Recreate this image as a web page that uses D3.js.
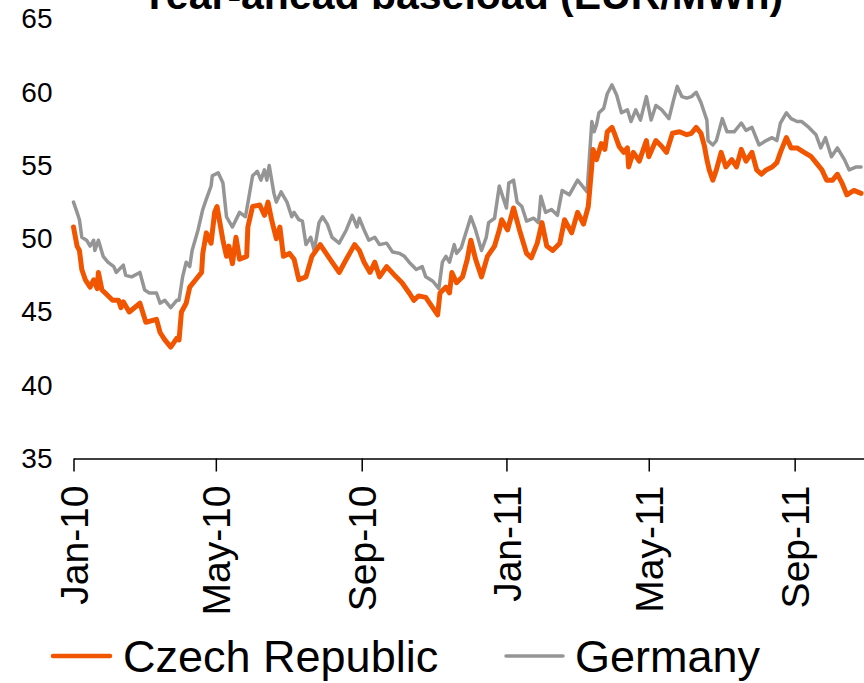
<!DOCTYPE html>
<html>
<head>
<meta charset="utf-8">
<script src="https://cdn.jsdelivr.net/npm/d3@7"></script>
<style>
  body { margin: 0; background: #fff; }
  svg { display: block; font-family: "Liberation Sans", Arial, sans-serif; }
</style>
</head>
<body>
<svg width="864" height="683"></svg>
<script>
var czechDates = ["2010-01-01","2010-01-04","2010-01-06","2010-01-08","2010-01-11","2010-01-15","2010-01-18","2010-01-21","2010-01-22","2010-01-25","2010-01-29","2010-02-03","2010-02-08","2010-02-10","2010-02-12","2010-02-17","2010-02-26","2010-03-03","2010-03-12","2010-03-15","2010-03-19","2010-03-24","2010-03-29","2010-03-31","2010-04-02","2010-04-06","2010-04-09","2010-04-14","2010-04-19","2010-04-20","2010-04-23","2010-04-27","2010-04-30","2010-05-02","2010-05-07","2010-05-10","2010-05-12","2010-05-15","2010-05-18","2010-05-21","2010-05-27","2010-05-28","2010-06-01","2010-06-07","2010-06-11","2010-06-14","2010-06-17","2010-06-21","2010-06-24","2010-06-27","2010-07-02","2010-07-06","2010-07-10","2010-07-16","2010-07-21","2010-07-28","2010-08-02","2010-08-07","2010-08-13","2010-08-19","2010-08-26","2010-08-30","2010-09-03","2010-09-08","2010-09-12","2010-09-16","2010-09-22","2010-09-30","2010-10-05","2010-10-11","2010-10-15","2010-10-19","2010-10-25","2010-10-30","2010-11-04","2010-11-06","2010-11-11","2010-11-14","2010-11-16","2010-11-20","2010-11-25","2010-11-29","2010-12-02","2010-12-06","2010-12-11","2010-12-16","2010-12-22","2010-12-26","2010-12-28","2011-01-02","2011-01-07","2011-01-12","2011-01-18","2011-01-22","2011-01-27","2011-01-31","2011-02-04","2011-02-09","2011-02-15","2011-02-19","2011-02-25","2011-03-02","2011-03-07","2011-03-11","2011-03-14","2011-03-15","2011-03-18","2011-03-22","2011-03-25","2011-03-27","2011-03-31","2011-04-02","2011-04-06","2011-04-10","2011-04-13","2011-04-14","2011-04-18","2011-04-23","2011-04-29","2011-05-01","2011-05-07","2011-05-12","2011-05-16","2011-05-21","2011-05-27","2011-06-02","2011-06-06","2011-06-10","2011-06-14","2011-06-17","2011-06-19","2011-06-21","2011-06-24","2011-06-27","2011-07-01","2011-07-05","2011-07-10","2011-07-14","2011-07-18","2011-07-22","2011-07-27","2011-07-31","2011-08-04","2011-08-08","2011-08-13","2011-08-17","2011-08-20","2011-08-25","2011-08-29","2011-09-03","2011-09-09","2011-09-15","2011-09-19","2011-09-24","2011-09-28","2011-10-03","2011-10-07","2011-10-11","2011-10-15","2011-10-21","2011-10-27"];
var czechValues = [50.8,49.5,49.2,47.9,47.2,46.7,47.2,46.6,47.7,46.5,46.2,45.8,45.8,45.3,45.7,45.0,45.6,44.3,44.5,43.6,43.1,42.6,43.2,43.1,45.0,45.6,46.7,47.2,47.7,49.0,50.4,49.7,51.8,52.2,49.9,48.8,49.5,48.3,50.1,48.6,48.8,50.8,52.2,52.3,51.6,52.5,51.3,50.0,50.8,48.8,49.0,48.6,47.2,47.4,48.8,49.6,49.0,48.4,47.7,48.6,49.6,49.2,48.4,47.7,48.4,47.4,48.1,47.4,47.0,46.3,45.8,46.1,46.0,45.4,44.8,46.3,46.7,46.3,47.7,47.0,47.4,48.6,49.9,48.6,47.4,48.8,49.5,50.6,51.3,50.6,52.1,50.6,49.0,48.7,49.7,51.1,49.5,49.2,49.7,51.3,50.4,51.8,51.0,52.2,55.0,56.1,55.4,56.5,56.1,57.3,57.6,57.2,56.3,55.9,56.2,54.9,55.9,55.3,56.7,55.6,56.7,56.3,55.9,57.2,57.3,57.1,57.2,57.6,57.2,56.3,55.4,54.7,54.0,54.7,55.9,54.9,55.4,54.9,56.1,55.3,55.9,54.7,54.4,54.7,54.9,55.2,55.9,56.9,56.2,56.2,55.9,55.6,55.2,54.7,54.0,54.0,54.4,53.8,53.0,53.3,53.1];

var germanyDates = ["2010-01-01","2010-01-04","2010-01-06","2010-01-08","2010-01-12","2010-01-15","2010-01-18","2010-01-19","2010-01-22","2010-01-26","2010-01-30","2010-02-04","2010-02-06","2010-02-12","2010-02-14","2010-02-19","2010-02-26","2010-03-02","2010-03-06","2010-03-12","2010-03-15","2010-03-19","2010-03-24","2010-03-29","2010-03-31","2010-04-03","2010-04-06","2010-04-09","2010-04-11","2010-04-16","2010-04-20","2010-04-23","2010-04-27","2010-04-28","2010-05-03","2010-05-07","2010-05-10","2010-05-15","2010-05-21","2010-05-26","2010-06-01","2010-06-05","2010-06-08","2010-06-11","2010-06-13","2010-06-15","2010-06-19","2010-06-21","2010-06-25","2010-06-30","2010-07-04","2010-07-06","2010-07-10","2010-07-13","2010-07-16","2010-07-20","2010-07-23","2010-07-27","2010-07-30","2010-08-03","2010-08-07","2010-08-13","2010-08-19","2010-08-24","2010-08-28","2010-08-30","2010-09-03","2010-09-07","2010-09-12","2010-09-16","2010-09-22","2010-09-27","2010-10-03","2010-10-07","2010-10-11","2010-10-17","2010-10-22","2010-10-25","2010-10-31","2010-11-05","2010-11-08","2010-11-11","2010-11-14","2010-11-18","2010-11-20","2010-11-24","2010-12-02","2010-12-06","2010-12-11","2010-12-15","2010-12-17","2010-12-22","2010-12-26","2011-01-01","2011-01-03","2011-01-07","2011-01-10","2011-01-14","2011-01-18","2011-01-24","2011-01-28","2011-01-30","2011-02-03","2011-02-08","2011-02-13","2011-02-17","2011-02-23","2011-03-02","2011-03-10","2011-03-14","2011-03-16","2011-03-18","2011-03-20","2011-03-24","2011-03-27","2011-03-31","2011-04-04","2011-04-08","2011-04-13","2011-04-16","2011-04-20","2011-04-24","2011-04-29","2011-05-03","2011-05-07","2011-05-12","2011-05-18","2011-05-22","2011-05-25","2011-05-29","2011-06-02","2011-06-06","2011-06-10","2011-06-14","2011-06-19","2011-06-20","2011-06-24","2011-06-27","2011-07-02","2011-07-06","2011-07-12","2011-07-18","2011-07-22","2011-07-27","2011-08-02","2011-08-08","2011-08-13","2011-08-17","2011-08-20","2011-08-25","2011-08-29","2011-09-03","2011-09-07","2011-09-13","2011-09-19","2011-09-23","2011-09-27","2011-10-02","2011-10-07","2011-10-13","2011-10-17","2011-10-23","2011-10-27"];
var germanyValues = [52.5,51.8,51.3,50.1,49.9,49.5,49.9,49.2,49.9,48.8,48.4,48.1,47.7,48.2,47.5,47.4,47.7,46.5,46.3,46.3,45.6,45.8,45.3,45.8,45.8,47.4,48.4,48.1,49.2,50.6,52.0,52.7,53.6,54.3,54.5,53.8,51.5,50.8,51.8,51.5,54.3,54.6,54.0,54.7,54.0,55.0,53.1,52.5,53.2,52.5,51.5,51.8,51.3,51.2,49.6,50.1,49.2,51.1,51.5,51.0,50.1,49.7,50.6,51.6,50.8,51.4,50.6,49.9,50.1,49.6,49.7,49.1,49.0,48.8,48.4,47.9,48.1,47.4,47.1,46.6,48.4,48.8,48.4,49.6,49.0,49.4,51.5,50.6,49.2,50.1,51.1,51.4,53.6,52.1,53.8,54.0,52.5,52.2,51.2,51.4,51.1,52.9,51.8,52.0,51.6,53.3,53.0,54.0,53.2,58.0,57.3,57.8,58.6,58.9,59.9,60.5,59.8,58.6,58.8,58.0,58.8,58.1,59.7,58.1,59.1,58.8,58.2,59.5,60.4,59.7,59.6,59.7,60.0,59.3,58.1,56.7,56.4,56.7,58.2,57.3,57.3,57.9,57.4,57.6,56.4,56.7,56.9,56.7,57.9,58.6,58.2,58.0,58.0,57.6,57.1,56.2,56.9,55.6,56.2,55.4,54.7,54.9,54.9];

var yTicks = [35, 40, 45, 50, 55, 60, 65];
var xTickDates = ["2010-01-01","2010-05-01","2010-09-01","2011-01-01","2011-05-01","2011-09-01"];
var seriesNames = ["Czech Republic", "Germany"];
var title = "Year-ahead baseload (EUR/MWh)";

var svg = d3.select("svg"),
    width = +svg.attr("width"),
    height = +svg.attr("height");

var parse = d3.timeParse("%Y-%m-%d");

var series = [
    {name: seriesNames[0], color: "#f25500", width: 5,
     values: czechDates.map(function (d, i) { return {date: parse(d), value: czechValues[i]}; })},
    {name: seriesNames[1], color: "#959595", width: 3.5,
     values: germanyDates.map(function (d, i) { return {date: parse(d), value: germanyValues[i]}; })}
];

var x = d3.scaleTime()
    .domain([parse("2010-01-01"), parse("2011-11-01")])
    .range([73.5, 867]);

var y = d3.scaleLinear()
    .domain([35, 65])
    .range([458.5, 19]);

// title sits mostly above the page edge, as in the original picture
svg.append("text")
    .attr("x", 462)
    .attr("y", 9)
    .attr("text-anchor", "middle")
    .attr("font-size", 41)
    .attr("font-weight", "bold")
    .attr("fill", "#000")
    .text(title);

var yAxis = svg.append("g")
    .attr("transform", "translate(73.5,0)")
    .call(d3.axisLeft(y).tickValues(yTicks).tickSize(0).tickPadding(21));
yAxis.select(".domain").remove();
yAxis.selectAll("text")
    .attr("font-size", 28)
    .attr("font-family", "Liberation Sans, Arial, sans-serif")
    .attr("fill", "#000");

var line = d3.line()
    .x(function (d) { return x(d.date); })
    .y(function (d) { return y(d.value); });

// germany first so czech sits on top
svg.append("g")
    .selectAll("path")
    .data(series.slice().reverse())
    .enter().append("path")
    .attr("fill", "none")
    .attr("stroke", function (d) { return d.color; })
    .attr("stroke-width", function (d) { return d.width; })
    .attr("stroke-linejoin", "round")
    .attr("stroke-linecap", "round")
    .attr("d", function (d) { return line(d.values); });

var xAxis = svg.append("g")
    .attr("transform", "translate(0,458.5)")
    .call(d3.axisBottom(x)
        .tickValues(xTickDates.map(parse))
        .tickSize(13)
        .tickSizeOuter(0)
        .tickFormat(d3.timeFormat("%b-%y")));
xAxis.select(".domain").attr("stroke", "#000").attr("stroke-width", 1.5);
xAxis.selectAll(".tick line").attr("stroke", "#000").attr("stroke-width", 1.5);
xAxis.selectAll("text")
    .attr("font-size", 39)
    .attr("font-family", "Liberation Sans, Arial, sans-serif")
    .attr("fill", "#000")
    .attr("text-anchor", "end")
    .attr("transform", "rotate(-90)")
    .attr("x", -27)
    .attr("y", 0)
    .attr("dy", "0.36em");

// legend
var legend = svg.append("g")
    .selectAll("g")
    .data(series)
    .enter().append("g")
    .attr("transform", function (d, i) { return "translate(" + (i ? 506 : 53) + ",656)"; });

legend.append("line")
    .attr("x1", 0)
    .attr("x2", 57)
    .attr("stroke", function (d) { return d.color; })
    .attr("stroke-width", function (d, i) { return i ? 3.5 : 4.5; })
    .attr("stroke-linecap", "round");

legend.append("text")
    .attr("x", function (d, i) { return i ? 69 : 70; })
    .attr("dy", "0.36em")
    .attr("font-size", 45)
    .attr("fill", "#000")
    .text(function (d) { return d.name; });
</script>
</body>
</html>
